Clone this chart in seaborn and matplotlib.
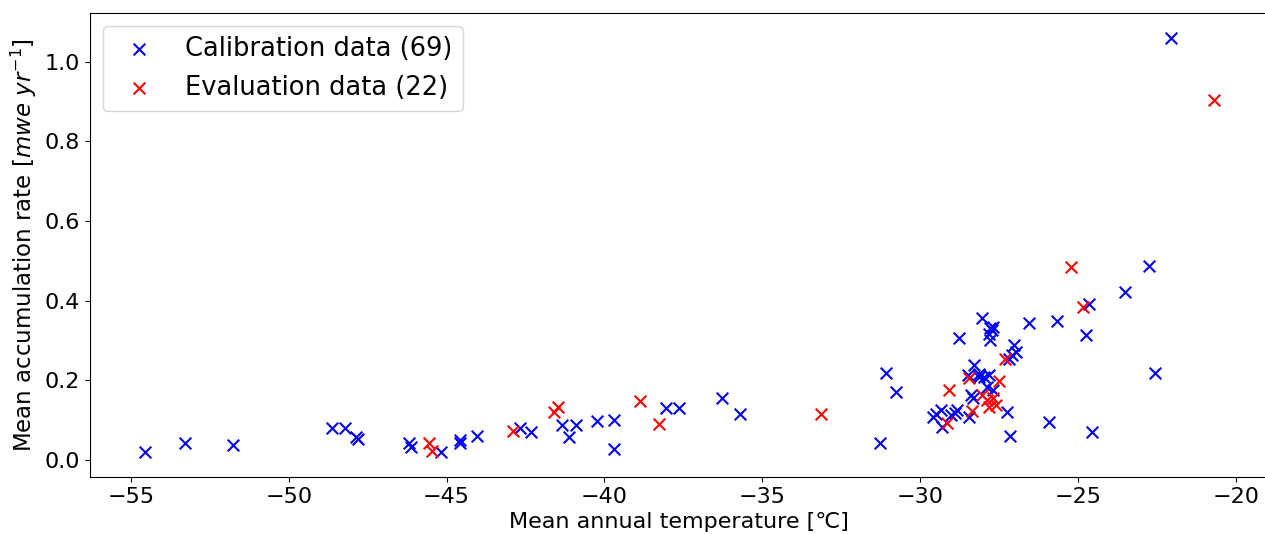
import numpy as np
import pandas as pd
import matplotlib
matplotlib.use('Agg')
import matplotlib.pyplot as plt
import seaborn as sns

# calibration points (temperature in C, accumulation in mwe/yr)
cal_temp = [-54.56, -53.29, -51.76, -48.64, -48.21, -47.87, -47.80, -46.18, -46.13, -45.18,
            -44.59, -44.57, -44.04, -42.69, -42.33, -41.35, -41.13, -40.90, -40.23, -39.71,
            -39.71, -38.04, -37.65, -36.29, -35.71, -31.27, -31.09, -30.78, -29.61, -29.35,
            -29.30, -29.03, -28.82, -28.45, -28.77, -28.03, -27.80, -27.72, -27.83, -27.78,
            -26.55, -25.67, -27.03, -26.97, -27.08, -28.30, -28.50, -28.13, -27.98, -27.82,
            -27.71, -27.87, -28.39, -28.34, -27.24, -27.15, -25.91, -22.06, -22.75, -23.52,
            -24.65, -24.75, -22.57, -24.56, -27.71, -29.50, -28.90, -28.15, -27.18]
cal_acc = [0.020, 0.041, 0.036, 0.080, 0.080, 0.058, 0.053, 0.042, 0.032, 0.020,
           0.049, 0.041, 0.059, 0.081, 0.070, 0.088, 0.057, 0.087, 0.097, 0.101,
           0.028, 0.129, 0.129, 0.156, 0.116, 0.042, 0.219, 0.170, 0.108, 0.124,
           0.082, 0.112, 0.124, 0.108, 0.305, 0.355, 0.330, 0.325, 0.317, 0.300,
           0.344, 0.348, 0.289, 0.271, 0.263, 0.237, 0.212, 0.208, 0.208, 0.212,
           0.175, 0.183, 0.162, 0.154, 0.120, 0.059, 0.095, 1.060, 0.487, 0.422,
           0.391, 0.313, 0.219, 0.070, 0.334, 0.115, 0.118, 0.215, 0.254]

# evaluation points
eval_temp = [-45.57, -45.47, -42.91, -41.59, -41.48, -38.88, -38.28, -33.13, -29.09, -29.14,
             -28.45, -28.37, -27.50, -28.03, -27.87, -27.71, -27.82, -27.60, -27.30, -25.21,
             -24.83, -20.68]
eval_acc = [0.041, 0.022, 0.072, 0.120, 0.133, 0.148, 0.091, 0.114, 0.175, 0.092,
            0.206, 0.122, 0.197, 0.162, 0.150, 0.154, 0.133, 0.137, 0.252, 0.484,
            0.384, 0.903]

cal = pd.DataFrame({'temp': cal_temp, 'acc': cal_acc})
ev = pd.DataFrame({'temp': eval_temp, 'acc': eval_acc})

fig, ax = plt.subplots(figsize=(12.65, 5.34), dpi=100)
sns.scatterplot(data=cal, x='temp', y='acc', marker='x', color='blue', s=70, linewidth=1.5,
                label='Calibration data (%d)' % len(cal), ax=ax)
sns.scatterplot(data=ev, x='temp', y='acc', marker='x', color='red', s=70, linewidth=1.5,
                label='Evaluation data (%d)' % len(ev), ax=ax)

ax.set_xlim(-56.3, -19.0)
ax.set_ylim(-0.043, 1.123)
ax.set_xlabel('Mean annual temperature [℃]', fontsize=16)
ax.set_ylabel('Mean accumulation rate [$mwe\\ yr^{-1}$]', fontsize=16.5)
ax.tick_params(labelsize=16)
ax.legend(loc='upper left', fontsize=18.5)

plt.subplots_adjust(left=0.071, right=1.002, top=0.976, bottom=0.107)
plt.savefig('out.png')
